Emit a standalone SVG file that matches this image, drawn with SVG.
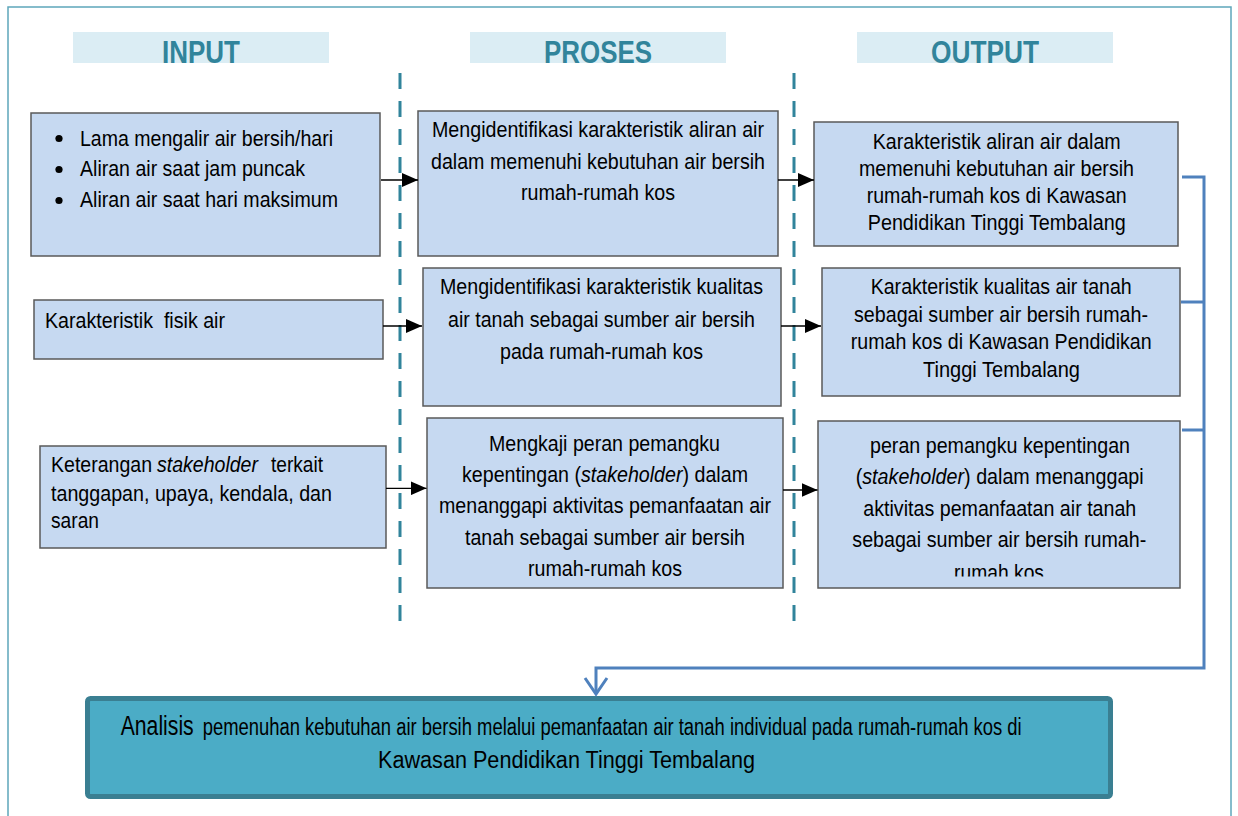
<svg xmlns="http://www.w3.org/2000/svg" width="1238" height="816" viewBox="0 0 1238 816">
<style>
  .hdrband { fill: #dbedf4; }
  .hdr { font-family: "Liberation Sans", Arial, sans-serif; font-weight: bold; font-size: 32px; fill: #31849b; }
  .box { fill: #c6d9f1; stroke: #595959; stroke-width: 1.5; }
  .t { font-family: "Liberation Sans", Arial, sans-serif; font-size: 22px; fill: #000; }
  .i { font-style: italic; }
  .tb { font-family: "Liberation Sans", Arial, sans-serif; font-size: 23px; fill: #000; }
  .div { stroke: #31849b; stroke-width: 3; stroke-dasharray: 16 12; fill: none; }
  .arr { stroke: #000; stroke-width: 1.3; fill: none; }
  .blue { stroke: #4f81bd; stroke-width: 3; fill: none; }
</style>
<defs>
  <marker id="ah" markerUnits="userSpaceOnUse" markerWidth="16" markerHeight="14" refX="16" refY="7" orient="auto">
    <path d="M0,0 L16,7 L0,14 z" fill="#000"/>
  </marker>
  <clipPath id="clipO3"><rect x="818" y="421" width="362" height="155.5"/></clipPath>
</defs>
<rect x="0" y="0" width="1238" height="816" fill="#ffffff"/>
<rect id="frame" x="8" y="7" width="1223" height="830" fill="none" stroke="#5ea6bb" stroke-width="1.5"/>

<g id="headers">
  <rect class="hdrband" x="73" y="32" width="256" height="31"/>
  <text class="hdr" x="162" y="63" textLength="78" lengthAdjust="spacingAndGlyphs">INPUT</text>
  <rect class="hdrband" x="470" y="32" width="256" height="31"/>
  <text class="hdr" x="544" y="63" textLength="108" lengthAdjust="spacingAndGlyphs">PROSES</text>
  <rect class="hdrband" x="857" y="32" width="256" height="31"/>
  <text class="hdr" x="931" y="63" textLength="108" lengthAdjust="spacingAndGlyphs">OUTPUT</text>
</g>

<g id="dividers">
  <line class="div" x1="400" y1="73" x2="400" y2="622"/>
  <line class="div" x1="794" y1="73" x2="794" y2="622"/>
</g>

<g id="input1">
  <rect class="box" x="31" y="113" width="349" height="143"/>
  <circle cx="59" cy="138.5" r="3.6" fill="#000"/>
  <circle cx="59" cy="169.5" r="3.6" fill="#000"/>
  <circle cx="59" cy="200.5" r="3.6" fill="#000"/>
  <text class="t" x="80" y="145.5" textLength="253" lengthAdjust="spacingAndGlyphs">Lama mengalir air bersih/hari</text>
  <text class="t" x="80" y="176" textLength="225" lengthAdjust="spacingAndGlyphs">Aliran air saat jam puncak</text>
  <text class="t" x="80" y="207" textLength="258" lengthAdjust="spacingAndGlyphs">Aliran air saat hari maksimum</text>
</g>

<g id="input2">
  <rect class="box" x="34" y="300" width="349" height="59"/>
  <text class="t" x="45" y="327.5" textLength="180" lengthAdjust="spacingAndGlyphs" xml:space="preserve">Karakteristik  fisik air</text>
</g>

<g id="input3">
  <rect class="box" x="40" y="446" width="346" height="102"/>
  <text class="t" x="51" y="472.3" textLength="101" lengthAdjust="spacingAndGlyphs">Keterangan</text>
  <text class="t i" x="157" y="472.3" textLength="101" lengthAdjust="spacingAndGlyphs">stakeholder</text>
  <text class="t" x="271" y="472.3" textLength="52" lengthAdjust="spacingAndGlyphs">terkait</text>
  <text class="t" x="51" y="500.7" textLength="281" lengthAdjust="spacingAndGlyphs">tanggapan, upaya, kendala, dan</text>
  <text class="t" x="51" y="527.7" textLength="48" lengthAdjust="spacingAndGlyphs">saran</text>
</g>

<g id="proses1">
  <rect class="box" x="418" y="111" width="360" height="145"/>
  <text class="t" x="432" y="137" textLength="332" lengthAdjust="spacingAndGlyphs">Mengidentifikasi karakteristik aliran air</text>
  <text class="t" x="431" y="168.5" textLength="334" lengthAdjust="spacingAndGlyphs">dalam memenuhi kebutuhan air bersih</text>
  <text class="t" x="521" y="200" textLength="154" lengthAdjust="spacingAndGlyphs">rumah-rumah kos</text>
</g>

<g id="proses2">
  <rect class="box" x="423" y="268" width="358" height="138"/>
  <text class="t" x="440" y="294.3" textLength="323" lengthAdjust="spacingAndGlyphs">Mengidentifikasi karakteristik kualitas</text>
  <text class="t" x="448" y="326.7" textLength="307" lengthAdjust="spacingAndGlyphs">air tanah sebagai sumber air bersih</text>
  <text class="t" x="500" y="359" textLength="203" lengthAdjust="spacingAndGlyphs">pada rumah-rumah kos</text>
</g>

<g id="proses3">
  <rect class="box" x="427" y="418" width="356" height="170"/>
  <text class="t" x="489" y="451" textLength="231" lengthAdjust="spacingAndGlyphs">Mengkaji peran pemangku</text>
  <text class="t" x="462" y="481.7" textLength="286" lengthAdjust="spacingAndGlyphs">kepentingan (<tspan class="i">stakeholder</tspan>) dalam</text>
  <text class="t" x="439" y="513" textLength="332" lengthAdjust="spacingAndGlyphs">menanggapi aktivitas pemanfaatan air</text>
  <text class="t" x="465" y="545" textLength="280" lengthAdjust="spacingAndGlyphs">tanah sebagai sumber air bersih</text>
  <text class="t" x="528" y="576" textLength="154" lengthAdjust="spacingAndGlyphs">rumah-rumah kos</text>
</g>

<g id="output1">
  <rect class="box" x="814" y="122" width="364" height="124"/>
  <text class="t" x="872.7" y="149" textLength="248" lengthAdjust="spacingAndGlyphs">Karakteristik aliran air dalam</text>
  <text class="t" x="859" y="176" textLength="275" lengthAdjust="spacingAndGlyphs">memenuhi kebutuhan air bersih</text>
  <text class="t" x="866.7" y="202.7" textLength="260" lengthAdjust="spacingAndGlyphs">rumah-rumah kos di Kawasan</text>
  <text class="t" x="867.7" y="230" textLength="258" lengthAdjust="spacingAndGlyphs">Pendidikan Tinggi Tembalang</text>
</g>

<g id="output2">
  <rect class="box" x="822" y="268" width="358" height="128"/>
  <text class="t" x="870.7" y="294.3" textLength="261" lengthAdjust="spacingAndGlyphs">Karakteristik kualitas air tanah</text>
  <text class="t" x="854" y="322.3" textLength="294" lengthAdjust="spacingAndGlyphs">sebagai sumber air bersih rumah-</text>
  <text class="t" x="850.7" y="349.3" textLength="301" lengthAdjust="spacingAndGlyphs">rumah kos di Kawasan Pendidikan</text>
  <text class="t" x="923" y="377.3" textLength="157" lengthAdjust="spacingAndGlyphs">Tinggi Tembalang</text>
</g>

<g id="output3">
  <rect class="box" x="818" y="421" width="362" height="167"/>
  <text class="t" x="870" y="452.7" textLength="260" lengthAdjust="spacingAndGlyphs">peran pemangku kepentingan</text>
  <text class="t" x="855.7" y="484" textLength="288" lengthAdjust="spacingAndGlyphs">(<tspan class="i">stakeholder</tspan>) dalam menanggapi</text>
  <text class="t" x="863.3" y="515.7" textLength="273" lengthAdjust="spacingAndGlyphs">aktivitas pemanfaatan air tanah</text>
  <text class="t" x="852.3" y="546.7" textLength="294" lengthAdjust="spacingAndGlyphs">sebagai sumber air bersih rumah-</text>
  <text class="t" x="954" y="580" textLength="90" lengthAdjust="spacingAndGlyphs" clip-path="url(#clipO3)">rumah kos</text>
</g>

<g id="analisis">
  <rect x="87.5" y="698.5" width="1023" height="98" rx="3" fill="#4bacc6" stroke="#3a7f92" stroke-width="5"/>
  <text class="tb" x="120.7" y="735" textLength="73" lengthAdjust="spacingAndGlyphs" style="font-size:27px">Analisis</text>
  <text class="tb" x="202.7" y="735" textLength="819" lengthAdjust="spacingAndGlyphs">pemenuhan kebutuhan air bersih melalui pemanfaatan air tanah individual pada rumah-rumah kos di</text>
  <text class="tb" x="378" y="768" textLength="377" lengthAdjust="spacingAndGlyphs">Kawasan Pendidikan Tinggi Tembalang</text>
</g>

<g id="connectors">
  <line class="arr" x1="381" y1="180" x2="418" y2="180" marker-end="url(#ah)"/>
  <line class="arr" x1="778" y1="180" x2="814" y2="180" marker-end="url(#ah)"/>
  <line class="arr" x1="383" y1="326" x2="422" y2="326" marker-end="url(#ah)"/>
  <line class="arr" x1="781" y1="326" x2="821" y2="326" marker-end="url(#ah)"/>
  <line class="arr" x1="386" y1="488.3" x2="426.5" y2="488.3" marker-end="url(#ah)"/>
  <line class="arr" x1="783" y1="490" x2="817.5" y2="490" marker-end="url(#ah)"/>
  <path class="blue" d="M1182,177 H1204 V668 H596 V693"/>
  <line class="blue" x1="1181" y1="302" x2="1204" y2="302"/>
  <line class="blue" x1="1182" y1="430" x2="1204" y2="430"/>
  <polyline class="blue" points="585,678 596,694 607,678"/>
</g>
</svg>
